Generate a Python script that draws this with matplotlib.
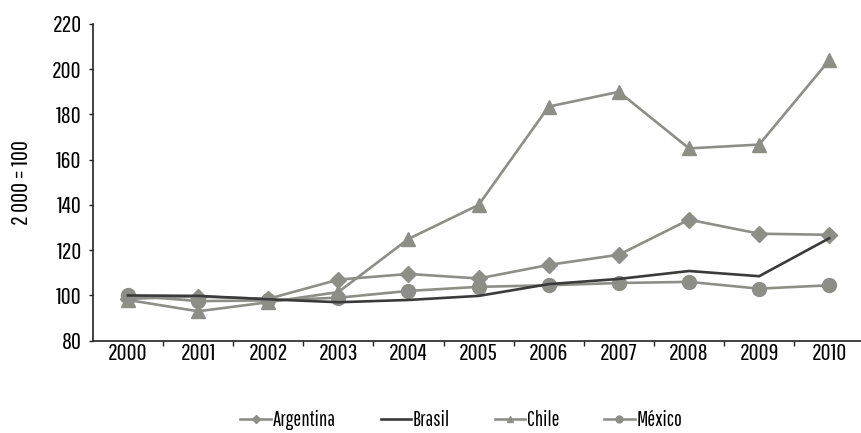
import matplotlib
matplotlib.use('Agg')
import matplotlib.pyplot as plt

plt.rcParams['font.family'] = ['Pathway Gothic One', 'DejaVu Sans']

years = ['2000', '2001', '2002', '2003', '2004', '2005', '2006', '2007', '2008', '2009', '2010']
argentina = [98.5, 99.5, 98.5, 107.0, 109.5, 107.5, 113.5, 118.0, 133.5, 127.3, 126.8]
brasil = [100.0, 99.8, 98.3, 97.0, 98.0, 99.8, 105.0, 107.3, 110.8, 108.5, 125.3]
chile = [98.0, 93.0, 97.0, 101.5, 125.0, 140.0, 183.5, 190.0, 165.0, 166.7, 204.0]
mexico = [100.0, 97.5, 97.8, 99.0, 102.0, 103.8, 104.5, 105.5, 106.0, 103.0, 104.5]

gray = '#8e8e89'
dark = '#3a3a3a'
fs = 17.5

fig = plt.figure(figsize=(8.61, 4.33), dpi=100)
ax = fig.add_axes([0.1079, 0.2132, 0.896, 0.7314])

x = list(range(len(years)))
ax.plot(x, argentina, color=gray, lw=1.9, marker='D', ms=8, label='Argentina', zorder=3)
ax.plot(x, brasil, color=dark, lw=1.9, label='Brasil', zorder=4)
ax.plot(x, chile, color=gray, lw=1.9, marker='^', ms=10, label='Chile', zorder=3)
ax.plot(x, mexico, color=gray, lw=1.9, marker='o', ms=10, label='México', zorder=3)

ax.set_xlim(-0.5, len(years) - 0.5)
ax.set_ylim(80, 220)
ax.set_yticks(range(80, 221, 20))
ax.set_xticks(x)
ax.set_xticklabels(years)
ax.set_xticks([i + 0.5 for i in range(len(years) - 1)], minor=True)
ax.tick_params(axis='x', which='major', length=0, pad=1.5, labelsize=fs)
ax.tick_params(axis='x', which='minor', length=3.6, width=1, color='#222222')
ax.tick_params(axis='y', length=3, width=1, color='#222222', pad=5, labelsize=fs)

for s in ['top', 'right']:
    ax.spines[s].set_visible(False)
for s in ['left', 'bottom']:
    ax.spines[s].set_color('#222222')
    ax.spines[s].set_linewidth(1.2)

ax.set_ylabel('2 000 = 100', fontsize=fs, va='center')
ax.yaxis.set_label_coords(-0.092, 0.5)

handles, labels = ax.get_legend_handles_labels()
leg = fig.legend(handles, labels, loc='center', ncol=4, frameon=False,
                 bbox_to_anchor=(0.536, 0.03), fontsize=15, handlelength=1.45,
                 handletextpad=0.1, columnspacing=2.15, markerscale=0.5)

fig.savefig('out.png', dpi=100)
